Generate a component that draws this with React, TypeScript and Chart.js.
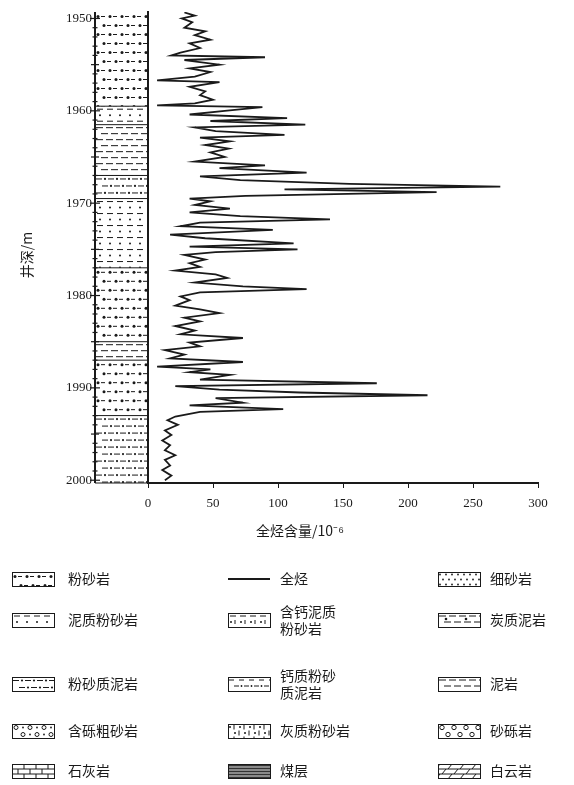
import React, { useEffect, useRef } from "react";
import { Chart, registerables } from "chart.js";

Chart.register(...registerables);

// Depth axis (m) and gas-log value axis
const depthTicks = [1950, 1960, 1970, 1980, 1990, 2000];
const valueTicks = [0, 50, 100, 150, 200, 250, 300];
const depthMin = 1949.3;
const depthMax = 2000.3;

// Total-gas log samples: depth (m) and value
const logDepths = [
  1949.35, 1949.7, 1950.0, 1950.4, 1951.0, 1951.4, 1951.8, 1952.3, 1952.7, 1953.2,
  1953.7, 1954.0, 1954.2, 1954.5, 1955.0, 1955.4, 1955.8, 1956.3, 1956.7, 1956.9,
  1957.4, 1957.9, 1958.3, 1958.8, 1959.2, 1959.4, 1959.6, 1960.0, 1960.4, 1960.8,
  1961.1, 1961.5, 1961.8, 1962.2, 1962.6, 1962.9, 1963.3, 1963.7, 1964.1, 1964.5,
  1965.0, 1965.5, 1965.9, 1966.2, 1966.7, 1967.1, 1967.5, 1967.9, 1968.2, 1968.5,
  1968.8, 1969.2, 1969.5, 1969.8, 1970.2, 1970.6, 1971.0, 1971.4, 1971.75, 1972.1,
  1972.5, 1972.9, 1973.4, 1973.8, 1974.35, 1974.7, 1975.0, 1975.3, 1975.6, 1976.1,
  1976.5, 1976.9, 1977.3, 1977.7, 1978.1, 1978.6, 1979.0, 1979.3, 1979.65, 1980.1,
  1980.5, 1981.1, 1981.5, 1981.9, 1982.4, 1982.8, 1983.3, 1983.8, 1984.2, 1984.6,
  1985.1, 1985.5, 1985.9, 1986.4, 1986.8, 1987.2, 1987.7, 1988.0, 1988.3, 1988.6,
  1989.1, 1989.5, 1989.8, 1990.2, 1990.5, 1990.8, 1991.1, 1991.6, 1991.9, 1992.3,
  1992.6, 1993.1, 1993.5, 1994.0, 1994.6, 1995.1, 1995.7, 1996.2, 1996.75, 1997.3,
  1997.8, 1998.4, 1998.9, 1999.5, 2000.0,
];
const logValues = [
  28, 36, 26, 34, 28, 44, 36, 48, 32, 40,
  25, 18, 90, 28, 55, 32, 48, 36, 7, 55,
  32, 44, 40, 50, 36, 7, 88, 59, 32, 107,
  48, 121, 36, 52, 105, 40, 63, 44, 62, 48,
  59, 36, 90, 55, 122, 40, 71, 155, 271, 105,
  222, 75, 32, 48, 36, 63, 32, 71, 140, 40,
  25, 96, 17, 44, 112, 32, 115, 52, 28, 44,
  32, 40, 21, 52, 61, 36, 73, 122, 40, 25,
  32, 21, 40, 55, 28, 40, 21, 36, 25, 73,
  32, 40, 13, 28, 17, 73, 7, 48, 32, 63,
  40, 176, 21, 55, 117, 215, 52, 73, 32, 104,
  40, 21, 15, 23, 13, 18, 11, 17, 13, 21,
  13, 17, 11, 18, 13,
];

// Lithology column: interval tops, bases (m) and rock type
const layerTops = [1949.3, 1959.5, 1961.5, 1967.0, 1969.5, 1977.0, 1985.0, 1987.0, 1993.0];
const layerBases = [1959.5, 1961.5, 1967.0, 1969.5, 1977.0, 1985.0, 1987.0, 1993.0, 2000.3];
const layerTypes = ["silt", "argSilt", "mud", "siltMud", "argSilt", "silt", "mud", "silt", "siltMud"];

// Legend, read column by column
const legendLabels = [
  ["粉砂岩", "泥质粉砂岩", "粉砂质泥岩", "含砾粗砂岩", "石灰岩"],
  ["全烃", "含钙泥质\n粉砂岩", "钙质粉砂\n质泥岩", "灰质粉砂岩", "煤层"],
  ["细砂岩", "炭质泥岩", "泥岩", "砂砾岩", "白云岩"],
];
const legendTypes = [
  ["silt", "argSilt", "siltMud", "gravel", "lime"],
  ["curve", "calcArgSilt", "calcSiltMud", "limeSilt", "coal"],
  ["fine", "carbMud", "mud", "conglo", "dolo"],
];

const INK = "#1a1a1a";
const CJK = '"Noto Sans CJK SC", sans-serif';
const SERIF = '"Liberation Serif", serif';

function fillPattern(ctx: CanvasRenderingContext2D, type: string, x: number, y: number, w: number, h: number) {
  ctx.save();
  ctx.beginPath();
  ctx.rect(x, y, w, h);
  ctx.clip();
  ctx.fillStyle = INK;
  ctx.strokeStyle = INK;
  ctx.lineWidth = 1;
  const dot = (px: number, py: number, r = 1.2) => {
    ctx.beginPath();
    ctx.arc(px, py, r, 0, Math.PI * 2);
    ctx.fill();
  };
  const dash = (px: number, py: number, len: number) => {
    ctx.beginPath();
    ctx.moveTo(px, py);
    ctx.lineTo(px + len, py);
    ctx.stroke();
  };
  const rows = (step: number, fn: (py: number, i: number) => void) => {
    let i = 0;
    for (let py = y + step / 2; py < y + h + step; py += step, i++) fn(py, i);
  };
  switch (type) {
    case "silt":
      rows(9, (py, i) => {
        for (let px = x + 3 + (i % 2) * 6; px < x + w; px += 12) {
          dot(px, py, 1.5);
          dash(px + 3, py, 4);
        }
      });
      break;
    case "argSilt":
      rows(6, (py, i) => {
        if (i % 2 === 0) for (let px = x + 2; px < x + w; px += 10) dash(px, py, 6);
        else for (let px = x + 5; px < x + w; px += 10) dot(px, py, 1);
      });
      break;
    case "mud":
      rows(6, (py, i) => {
        for (let px = x + 1 + (i % 2) * 5; px < x + w; px += 10) dash(px, py, 7);
      });
      break;
    case "siltMud":
      rows(7, (py, i) => {
        for (let px = x + 1 + (i % 2) * 6; px < x + w; px += 12) {
          dash(px, py, 6);
          dot(px + 9, py, 1.1);
        }
      });
      break;
    case "fine":
      rows(5, (py, i) => {
        for (let px = x + 2 + (i % 2) * 3; px < x + w; px += 6) dot(px, py, 0.9);
      });
      break;
    case "gravel":
      rows(7, (py, i) => {
        for (let px = x + 4 + (i % 2) * 7; px < x + w; px += 14) {
          ctx.beginPath();
          ctx.arc(px, py, 2, 0, Math.PI * 2);
          ctx.stroke();
          dot(px + 7, py, 0.9);
        }
      });
      break;
    case "conglo":
      rows(7, (py, i) => {
        for (let px = x + 4 + (i % 2) * 6; px < x + w; px += 12) {
          ctx.beginPath();
          ctx.arc(px, py, 2.2, 0, Math.PI * 2);
          ctx.stroke();
        }
      });
      break;
    case "lime":
    case "dolo":
      rows(5, (py, i) => {
        dash(x, py - 2.5, w);
        for (let px = x + (i % 2) * 6; px < x + w; px += 12) {
          ctx.beginPath();
          if (type === "lime") {
            ctx.moveTo(px, py - 2.5);
            ctx.lineTo(px, py + 2.5);
          } else {
            ctx.moveTo(px - 2, py + 2.5);
            ctx.lineTo(px + 2, py - 2.5);
          }
          ctx.stroke();
        }
      });
      break;
    case "calcArgSilt":
      rows(6, (py, i) => {
        if (i % 2 === 0) for (let px = x + 2; px < x + w; px += 10) dash(px, py, 6);
        else
          for (let px = x + 3; px < x + w; px += 10) {
            dot(px, py, 1);
            ctx.beginPath();
            ctx.moveTo(px + 4, py - 2);
            ctx.lineTo(px + 4, py + 2);
            ctx.stroke();
          }
      });
      break;
    case "calcSiltMud":
      rows(6, (py, i) => {
        for (let px = x + 1 + (i % 2) * 5; px < x + w; px += 10) {
          dash(px, py, 5);
          if (i % 2) dot(px + 7.5, py, 0.9);
        }
      });
      break;
    case "limeSilt":
      rows(6, (py, i) => {
        for (let px = x + 2 + (i % 2) * 5; px < x + w; px += 10) {
          dot(px, py, 1);
          ctx.beginPath();
          ctx.moveTo(px + 4, py - 2.5);
          ctx.lineTo(px + 4, py + 2.5);
          ctx.stroke();
        }
      });
      break;
    case "carbMud":
      rows(6, (py, i) => {
        for (let px = x + 1 + (i % 2) * 5; px < x + w; px += 10) dash(px, py, 7);
        if (i % 2) for (let px = x + 8; px < x + w; px += 20) dot(px, py - 3, 1.3);
      });
      break;
    case "coal":
      ctx.fillStyle = "#8a8a8a";
      ctx.fillRect(x, y, w, h);
      ctx.strokeStyle = "#333";
      rows(3, (py) => dash(x, py, w));
      break;
  }
  ctx.restore();
}

const decorations = {
  id: "wellDecorations",
  beforeDatasetsDraw(chart: any) {
    const { ctx, chartArea, scales } = chart;
    const ys = scales.y;
    const colLeft = 95;
    const colRight = chartArea.left;

    // lithology column
    for (let i = 0; i < layerTops.length; i++) {
      const t = ys.getPixelForValue(Math.max(layerTops[i], depthMin));
      const b = ys.getPixelForValue(Math.min(layerBases[i], depthMax));
      fillPattern(ctx, layerTypes[i], colLeft, t, colRight - colLeft, b - t);
      ctx.save();
      ctx.strokeStyle = INK;
      ctx.lineWidth = 1;
      ctx.beginPath();
      ctx.moveTo(colLeft, b);
      ctx.lineTo(colRight, b);
      ctx.stroke();
      ctx.restore();
    }

    // depth scale line with metre ticks
    ctx.save();
    ctx.strokeStyle = INK;
    ctx.lineWidth = 2;
    ctx.beginPath();
    ctx.moveTo(colLeft, chartArea.top);
    ctx.lineTo(colLeft, chartArea.bottom);
    ctx.stroke();
    ctx.lineWidth = 1.2;
    for (let d = Math.ceil(depthMin); d <= depthMax; d++) {
      const py = ys.getPixelForValue(d);
      const len = d % 10 === 0 ? 5 : d % 5 === 0 ? 4 : 2.5;
      ctx.beginPath();
      ctx.moveTo(colLeft - len, py);
      ctx.lineTo(colLeft + len, py);
      ctx.stroke();
    }
    ctx.restore();
  },
  afterDraw(chart: any) {
    const { ctx } = chart;
    ctx.save();
    ctx.fillStyle = INK;

    // axis titles
    ctx.font = `14px ${CJK}`;
    ctx.textAlign = "center";
    ctx.textBaseline = "middle";
    ctx.fillText("全烃含量/10⁻⁶", 300, 531);
    ctx.save();
    ctx.translate(27, 255);
    ctx.rotate(-Math.PI / 2);
    ctx.fillText("井深/m", 0, 0);
    ctx.restore();

    // legend grid
    const colSwatchX = [12, 228, 438];
    const colTextX = [68, 280, 490];
    const rowY = [579, 620, 684, 731, 771];
    const sw = 42;
    const sh = 14;
    ctx.textAlign = "left";
    ctx.font = `14px ${CJK}`;
    for (let c = 0; c < 3; c++) {
      for (let r = 0; r < 5; r++) {
        const type = legendTypes[c][r];
        const sx = colSwatchX[c];
        const sy = rowY[r] - sh / 2;
        if (type === "curve") {
          ctx.save();
          ctx.strokeStyle = INK;
          ctx.lineWidth = 2;
          ctx.beginPath();
          ctx.moveTo(sx, rowY[r]);
          ctx.lineTo(sx + sw, rowY[r]);
          ctx.stroke();
          ctx.restore();
        } else {
          fillPattern(ctx, type, sx, sy, sw, sh);
          ctx.save();
          ctx.strokeStyle = INK;
          ctx.lineWidth = 1;
          ctx.strokeRect(sx + 0.5, sy + 0.5, sw, sh);
          ctx.restore();
        }
        const lines = legendLabels[c][r].split("\n");
        const lh = 17;
        lines.forEach((ln, k) => {
          ctx.fillText(ln, colTextX[c], rowY[r] + (k - (lines.length - 1) / 2) * lh);
        });
      }
    }
    ctx.restore();
  },
};

export default function App() {
  const canvasRef = useRef<HTMLCanvasElement | null>(null);

  useEffect(() => {
    const canvas = canvasRef.current;
    if (!canvas) return;
    const points = logDepths.map((d, i) => ({ x: logValues[i], y: d }));
    const chart = new Chart(canvas, {
      type: "scatter",
      data: {
        datasets: [
          {
            label: "全烃",
            data: points,
            showLine: true,
            borderColor: INK,
            borderWidth: 1.8,
            pointRadius: 0,
            tension: 0,
          },
        ],
      },
      options: {
        responsive: false,
        animation: false,
        events: [],
        layout: { padding: { top: 12, right: 36, left: 0, bottom: 0 } },
        plugins: { legend: { display: false }, tooltip: { enabled: false } },
        scales: {
          x: {
            type: "linear",
            position: "bottom",
            min: 0,
            max: 300,
            afterBuildTicks: (scale: any) => {
              scale.ticks = valueTicks.map((v) => ({ value: v }));
            },
            afterFit: (scale: any) => {
              scale.height = 302;
            },
            grid: { display: true, drawOnChartArea: false, drawTicks: true, tickLength: 5, color: INK, lineWidth: 1 },
            border: { display: true, color: INK, width: 2 },
            ticks: { color: INK, font: { family: SERIF, size: 13 }, padding: 8, maxRotation: 0 },
          },
          y: {
            type: "linear",
            position: "left",
            reverse: true,
            min: depthMin,
            max: depthMax,
            afterBuildTicks: (scale: any) => {
              scale.ticks = depthTicks.map((v) => ({ value: v }));
            },
            afterFit: (scale: any) => {
              scale.width = 148;
              scale.paddingTop = 0;
              scale.paddingBottom = 0;
            },
            grid: { display: false, drawTicks: true, tickLength: 50 },
            border: { display: true, color: INK, width: 2 },
            ticks: {
              color: INK,
              font: { family: SERIF, size: 13 },
              padding: 6,
              callback: (v: any) => String(v),
            },
          },
        },
      },
      plugins: [decorations],
    });
    return () => chart.destroy();
  }, []);

  return (
    <div style={{ position: "absolute", left: 0, top: 0, width: 574, height: 785, background: "#fff" }}>
      <canvas ref={canvasRef} width={574} height={785} style={{ display: "block" }} />
    </div>
  );
}
